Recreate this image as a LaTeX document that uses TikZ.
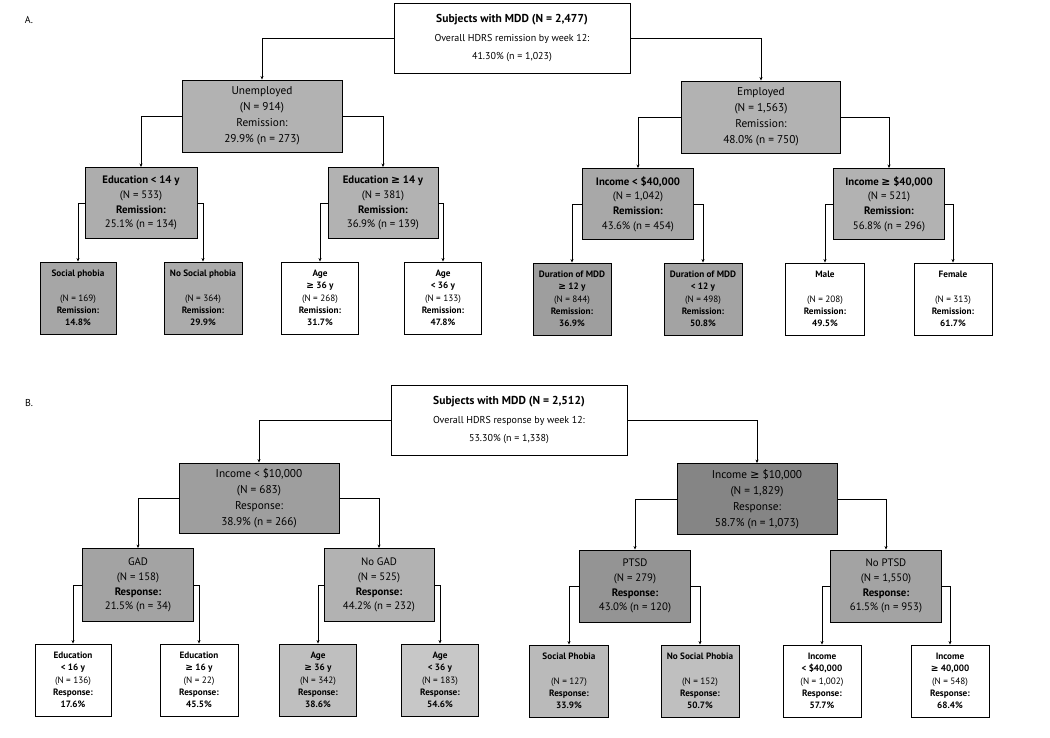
\documentclass[tikz,border=0pt]{standalone}
\usepackage{fontspec}
\setmainfont{PT Sans}
\newfontfamily\symfam{DejaVu Sans}
\newcommand{\gesym}{{\symfam ≥}}
\newcommand{\ttl}[1]{{\fontsize{11.5}{18.5}\selectfont\bfseries #1}}
\usetikzlibrary{arrows.meta}
\begin{document}
\begin{tikzpicture}[x=1pt,y=-1pt,
  box/.style={draw=black, line width=0.9pt, inner sep=0pt, align=center, anchor=center},
  sz/.style 2 args={minimum width=#1pt, minimum height=#2pt},
  rootbox/.style={box, fill=white, font={\fontsize{10}{18.5}\selectfont}},
  midbox/.style={box, font={\fontsize{11.3}{16}\selectfont}},
  lvbox/.style={box, font={\fontsize{10.8}{14.7}\selectfont}},
  leafbox/.style={box, font={\fontsize{9.2}{12.3}\selectfont}},
  conn/.style={draw=black, line width=0.6pt, -{Stealth[length=3.5pt,width=3pt]}},
  lbl/.style={font={\fontsize{10}{12}\selectfont}, anchor=center}
]
\useasboundingbox (0,0) rectangle (1050,737);
\fill[white] (0,0) rectangle (1050,737);

% ---------------- Panel A ----------------
\node[lbl] (labA) at (29,20) {A.};
\node[rootbox, sz={236}{70}] (rootA) at (512,38)
  {\ttl{Subjects with MDD (N = 2,477)}\\Overall HDRS remission by week 12:\\41.30\% (n = 1,023)};

\node[midbox, fill=black!30, sz={160}{72}] (unemp) at (262,116)
  {Unemployed\\(N = 914)\\Remission:\\29.9\% (n = 273)};
\node[midbox, fill=black!30, sz={159}{72}] (emp) at (761,117)
  {Employed\\(N = 1,563)\\Remission:\\48.0\% (n = 750)};

\node[lvbox, fill=black!32, sz={112}{71}] (edult) at (141,203)
  {\textbf{Education < 14 y}\\(N = 533)\\\textbf{Remission:}\\25.1\% (n = 134)};
\node[lvbox, fill=black!30, sz={110}{71}] (edugt) at (383,203)
  {\textbf{Education \gesym{} 14 y}\\(N = 381)\\\textbf{Remission:}\\36.9\% (n = 139)};
\node[lvbox, fill=black!34, sz={111}{71}] (inclt) at (638,204)
  {\textbf{Income < \$40,000}\\(N = 1,042)\\\textbf{Remission:}\\43.6\% (n = 454)};
\node[lvbox, fill=black!30, sz={111}{71}] (incgt) at (889,204)
  {\textbf{Income \gesym{} \$40,000}\\(N = 521)\\\textbf{Remission:}\\56.8\% (n = 296)};

\node[leafbox, fill=black!35, sz={76}{72}] (socA) at (78,298)
  {\textbf{Social phobia}\\\mbox{}\\(N = 169)\\\textbf{Remission:}\\\textbf{14.8\%}};
\node[leafbox, fill=black!33, sz={78}{72}] (nosocA) at (203,298)
  {\textbf{No Social phobia}\\\mbox{}\\(N = 364)\\\textbf{Remission:}\\\textbf{29.9\%}};
\node[leafbox, fill=white, sz={77}{72}] (ageGeA) at (320,298)
  {\textbf{Age}\\\textbf{\gesym{} 36 y}\\(N = 268)\\\textbf{Remission:}\\\textbf{31.7\%}};
\node[leafbox, fill=white, sz={77}{72}] (ageLtA) at (443,298)
  {\textbf{Age}\\\textbf{< 36 y}\\(N = 133)\\\textbf{Remission:}\\\textbf{47.8\%}};
\node[leafbox, fill=black!38, sz={78}{72}] (durGe) at (572,299)
  {\textbf{Duration of MDD}\\\textbf{\gesym{} 12 y}\\(N = 844)\\\textbf{Remission:}\\\textbf{36.9\%}};
\node[leafbox, fill=black!36, sz={78}{72}] (durLt) at (703,299)
  {\textbf{Duration of MDD}\\\textbf{< 12 y}\\(N = 498)\\\textbf{Remission:}\\\textbf{50.8\%}};
\node[leafbox, fill=white, sz={79}{72}] (male) at (825,299)
  {\textbf{Male}\\\mbox{}\\(N = 208)\\\textbf{Remission:}\\\textbf{49.5\%}};
\node[leafbox, fill=white, sz={78}{72}] (female) at (953,299)
  {\textbf{Female}\\\mbox{}\\(N = 313)\\\textbf{Remission:}\\\textbf{61.7\%}};

\draw[conn] (rootA.west) -| (unemp.north);
\draw[conn] (rootA.east) -| (emp.north);
\draw[conn] (unemp.west) -| (edult.north);
\draw[conn] (unemp.east) -| (edugt.north);
\draw[conn] (emp.west) -| (inclt.north);
\draw[conn] (emp.east) -| (incgt.north);
\draw[conn] (edult.west) -| (socA.north);
\draw[conn] (edult.east) -| (nosocA.north);
\draw[conn] (edugt.west) -| (ageGeA.north);
\draw[conn] (edugt.east) -| (ageLtA.north);
\draw[conn] (inclt.west) -| (durGe.north);
\draw[conn] (inclt.east) -| (durLt.north);
\draw[conn] (incgt.west) -| (male.north);
\draw[conn] (incgt.east) -| (female.north);

% ---------------- Panel B ----------------
\node[lbl] (labB) at (29,403) {B.};
\node[rootbox, sz={236}{70}] (rootB) at (509,420)
  {\ttl{Subjects with MDD (N = 2,512)}\\Overall HDRS response by week 12:\\53.30\% (n = 1,338)};

\node[midbox, fill=black!38, sz={160}{70}] (inc10lt) at (259,498)
  {Income < \$10,000\\(N = 683)\\Response:\\38.9\% (n = 266)};
\node[midbox, fill=black!48, sz={160}{71}] (inc10ge) at (757,499)
  {Income \gesym{} \$10,000\\(N = 1,829)\\Response:\\58.7\% (n = 1,073)};

\node[lvbox, fill=black!36, sz={111}{73}] (gad) at (138,585)
  {GAD\\(N = 158)\\\textbf{Response:}\\21.5\% (n = 34)};
\node[lvbox, fill=black!30, sz={110}{73}] (nogad) at (379,585)
  {No GAD\\(N = 525)\\\textbf{Response:}\\44.2\% (n = 232)};
\node[lvbox, fill=black!42, sz={111}{72}] (ptsd) at (635,586)
  {PTSD\\(N = 279)\\\textbf{Response:}\\43.0\% (n = 120)};
\node[lvbox, fill=black!36, sz={111}{72}] (noptsd) at (886,586)
  {No PTSD\\(N = 1,550)\\\textbf{Response:}\\61.5\% (n = 953)};

\node[leafbox, fill=white, sz={76}{72}] (eduLtB) at (73,680)
  {\textbf{Education}\\\textbf{< 16 y}\\(N = 136)\\\textbf{Response:}\\\textbf{17.6\%}};
\node[leafbox, fill=white, sz={78}{72}] (eduGeB) at (199,680)
  {\textbf{Education}\\\textbf{\gesym{} 16 y}\\(N = 22)\\\textbf{Response:}\\\textbf{45.5\%}};
\node[leafbox, fill=black!25, sz={77}{72}] (ageGeB) at (318,680)
  {\textbf{Age}\\\textbf{\gesym{} 36 y}\\(N = 342)\\\textbf{Response:}\\\textbf{38.6\%}};
\node[leafbox, fill=black!22, sz={77}{72}] (ageLtB) at (440,680)
  {\textbf{Age}\\\textbf{< 36 y}\\(N = 183)\\\textbf{Response:}\\\textbf{54.6\%}};
\node[leafbox, fill=black!27, sz={79}{72}] (socB) at (569,681)
  {\textbf{Social Phobia}\\\mbox{}\\(N = 127)\\\textbf{Response:}\\\textbf{33.9\%}};
\node[leafbox, fill=black!25, sz={78}{72}] (nosocB) at (700,681)
  {\textbf{No Social Phobia}\\\mbox{}\\(N = 152)\\\textbf{Response:}\\\textbf{50.7\%}};
\node[leafbox, fill=white, sz={78}{72}] (incLtB) at (822,681)
  {\textbf{Income}\\\textbf{< \$40,000}\\(N = 1,002)\\\textbf{Response:}\\\textbf{57.7\%}};
\node[leafbox, fill=white, sz={78}{72}] (incGeB) at (950,681)
  {\textbf{Income}\\\textbf{\gesym{} 40,000}\\(N = 548)\\\textbf{Response:}\\\textbf{68.4\%}};

\draw[conn] (rootB.west) -| (inc10lt.north);
\draw[conn] (rootB.east) -| (inc10ge.north);
\draw[conn] (inc10lt.west) -| (gad.north);
\draw[conn] (inc10lt.east) -| (nogad.north);
\draw[conn] (inc10ge.west) -| (ptsd.north);
\draw[conn] (inc10ge.east) -| (noptsd.north);
\draw[conn] (gad.west) -| (eduLtB.north);
\draw[conn] (gad.east) -| (eduGeB.north);
\draw[conn] (nogad.west) -| (ageGeB.north);
\draw[conn] (nogad.east) -| (ageLtB.north);
\draw[conn] (ptsd.west) -| (socB.north);
\draw[conn] (ptsd.east) -| (nosocB.north);
\draw[conn] (noptsd.west) -| (incLtB.north);
\draw[conn] (noptsd.east) -| (incGeB.north);
\end{tikzpicture}
\end{document}
